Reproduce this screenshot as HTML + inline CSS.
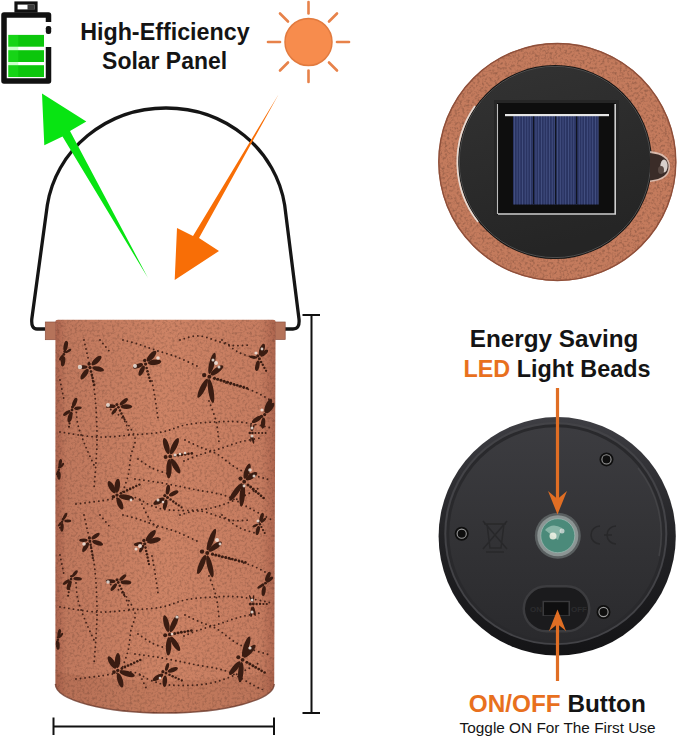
<!DOCTYPE html>
<html><head><meta charset="utf-8">
<style>
html,body{margin:0;padding:0;background:#fff;}
body{width:679px;height:738px;overflow:hidden;position:relative;}
svg{position:absolute;left:0;top:0;}
text{font-family:"Liberation Sans",sans-serif;}
</style></head>
<body>
<svg width="679" height="738" viewBox="0 0 679 738">
<defs>
  <linearGradient id="copper" x1="0" x2="1" y1="0" y2="0">
    <stop offset="0" stop-color="#ab634d"/>
    <stop offset="0.05" stop-color="#c0785d"/>
    <stop offset="0.5" stop-color="#cd8365"/>
    <stop offset="0.93" stop-color="#c67c60"/>
    <stop offset="1" stop-color="#ad654e"/>
  </linearGradient>
  <clipPath id="bodyclip"><path d="M55.8 322 H275.2 L273.8 690 H55.8 Z"/></clipPath>
  <filter id="speck" x="0" y="0" width="100%" height="100%">
    <feTurbulence type="fractalNoise" baseFrequency="0.4" numOctaves="2" seed="7" result="n"/>
    <feColorMatrix in="n" type="matrix" values="0 0 0 0 0  0 0 0 0 0  0 0 0 0 0  0 0 0 -2.6 1.45"/>
    <feComposite in2="SourceGraphic" operator="in"/>
  </filter>
  <linearGradient id="rimg" x1="0" x2="0" y1="0" y2="1">
    <stop offset="0" stop-color="#3e3e43"/>
    <stop offset="0.5" stop-color="#232326"/>
    <stop offset="1" stop-color="#141416"/>
  </linearGradient>
  <linearGradient id="faceg" x1="0" x2="0" y1="0" y2="1">
    <stop offset="0" stop-color="#3c3c40"/>
    <stop offset="0.5" stop-color="#333336"/>
    <stop offset="1" stop-color="#2a2a2d"/>
  </linearGradient>
  <linearGradient id="topdiscg" x1="0" x2="0.3" y1="0" y2="1">
    <stop offset="0" stop-color="#333333"/>
    <stop offset="1" stop-color="#252525"/>
  </linearGradient>
</defs>

<!-- Battery -->
<g id="battery">
  <rect x="16" y="3" width="20" height="8" fill="#fff" stroke="#111" stroke-width="3.2"/>
  <rect x="27.5" y="4.5" width="7" height="5.5" fill="#3a3a3a"/>
  <path d="M48.5 22 V15 H4 V81 H48.5 V47" fill="none" stroke="#111" stroke-width="5.5" stroke-linejoin="round"/>
  <rect x="45.8" y="26" width="5.4" height="8" rx="2.2" fill="#111"/>
  <rect x="8.3" y="34.9" width="35.7" height="11.8" fill="#0cc60c"/>
  <rect x="8.3" y="50.2" width="35.7" height="11.8" fill="#0cc60c"/>
  <rect x="8.3" y="65.2" width="35.7" height="11.8" fill="#0cc60c"/>
  <rect x="8.3" y="34.9" width="10" height="42" fill="#3f3" opacity="0.25"/>
</g>

<!-- Title text -->
<text x="164.9" y="39.6" text-anchor="middle" font-size="23" font-weight="bold" fill="#141414" textLength="169.5" lengthAdjust="spacingAndGlyphs">High-Efficiency</text>
<text x="164.6" y="68.9" text-anchor="middle" font-size="23" font-weight="bold" fill="#141414" textLength="125" lengthAdjust="spacingAndGlyphs">Solar Panel</text>

<!-- Sun -->
<g id="sun" stroke="#e7824a" stroke-width="2.6" stroke-linecap="round">
  <circle cx="308.5" cy="42" r="23.5" fill="#f78c4d" stroke="#e27a3e" stroke-width="1.5"/>
  <line x1="308.5" y1="2" x2="308.5" y2="13.5"/>
  <line x1="308.5" y1="70.5" x2="308.5" y2="82"/>
  <line x1="268" y1="42" x2="280" y2="42"/>
  <line x1="337" y1="42" x2="349" y2="42"/>
  <line x1="280" y1="13.5" x2="288" y2="21.5"/>
  <line x1="337" y1="13.5" x2="329" y2="21.5"/>
  <line x1="280" y1="70.5" x2="288" y2="62.5"/>
  <line x1="337" y1="70.5" x2="329" y2="62.5"/>
</g>

<!-- Handle -->
<path d="M45 329 H37 Q31 329 31.8 319 L47.34 205 A120 114 0 0 1 284.66 205 L299 319 Q300 329 293 329 H285" fill="none" stroke="#151515" stroke-width="3.3"/>

<!-- Green arrow -->
<path d="M42 93.5 L86.3 121.4 L70 131 L148 278 L62.5 136.5 L44.3 145.3 Z" fill="#08e412"/>
<!-- Orange arrow -->
<path d="M278.5 94.4 L199 238 L219 251 L174.7 280 L177 228 L193 236 Z" fill="#f86e06"/>

<!-- Lantern body -->
<g id="lantern">
  <rect x="45.3" y="322" width="10.5" height="17.7" fill="#b5735a"/>
  <rect x="45.3" y="322" width="10.5" height="17.7" fill="none" stroke="#8f5240" stroke-width="0.7"/>
  <rect x="275.2" y="322" width="10" height="17.5" fill="#b5735a"/>
  <rect x="275.2" y="322" width="10" height="17.5" fill="none" stroke="#8f5240" stroke-width="0.7"/>
  <path id="body" d="M55.4 322 Q55.4 319.7 58 319.7 H273 Q275.6 319.7 275.6 322 L274.2 684 A109.4 29 0 0 1 55.4 684 Z" fill="url(#copper)"/>
  <path d="M55.4 672 Q165 690 274.3 672 L274.2 684 A109.4 29 0 0 1 55.4 684 Z" fill="#6a3020" opacity="0.1"/>
  <path d="M55.4 684 A109.4 29 0 0 0 274.2 684" fill="none" stroke="#6e3a2a" stroke-width="1.4" opacity="0.8"/>
  <path d="M55.4 322 Q55.4 319.7 58 319.7 H273 Q275.6 319.7 275.6 322 L274.2 684 A109.4 29 0 0 1 55.4 684 Z" fill="#000" filter="url(#speck)" opacity="0.16"/>
  <g clip-path="url(#bodyclip)">
<!--DF-->
<g fill="none" stroke="#45241a" stroke-width="1.9" stroke-linecap="round" stroke-dasharray="0 4.6">
<path d="M84 340 C85.7 348.0 91.8 372.7 94 388 C96.2 403.3 96.7 419.7 97 432 C97.3 444.3 96.5 452.5 96 462 C95.5 471.5 94.3 484.5 94 489"/>
<path d="M123 340 C125.5 340.7 132.7 342.3 138 344 C143.3 345.7 148.5 347.8 155 350 C161.5 352.2 169.7 354.2 177 357 C184.3 359.8 195.3 365.3 199 367"/>
<path d="M226 383 C230.5 384.3 245.3 388.0 253 391 C260.7 394.0 268.8 399.3 272 401"/>
<path d="M60 432 C66.2 432.8 85.2 436.5 97 437 C108.8 437.5 120.2 435.8 131 435 C141.8 434.2 153.0 433.7 162 432 C171.0 430.3 176.5 426.7 185 425 C193.5 423.3 203.8 422.5 213 422 C222.2 421.5 230.2 421.0 240 422 C249.8 423.0 266.7 427.0 272 428"/>
<path d="M152 381 C152.5 383.8 154.0 391.8 155 398 C156.0 404.2 157.5 414.7 158 418"/>
<path d="M124 418 C125.8 421.3 133.8 431.8 135 438 C136.2 444.2 132.2 448.7 131 455 C129.8 461.3 129.7 469.2 128 476 C126.3 482.8 122.2 492.7 121 496"/>
<path d="M184 461 C186.5 460.0 193.2 457.0 199 455 C204.8 453.0 212.2 451.2 219 449 C225.8 446.8 233.2 443.8 240 442 C246.8 440.2 256.7 438.7 260 438"/>
<path d="M135 479 C139.5 479.7 152.5 481.3 162 483 C171.5 484.7 181.3 486.8 192 489 C202.7 491.2 215.8 492.5 226 496 C236.2 499.5 245.3 506.0 253 510 C260.7 514.0 268.8 518.3 272 520"/>
<path d="M209 401 C210.2 404.3 214.3 414.2 216 421 C217.7 427.8 218.5 438.5 219 442"/>
<path d="M100 340 L110 352"/>
<path d="M180 340 C183.3 339.3 191.7 335.2 200 336 C208.3 336.8 221.7 343.5 230 345 C238.3 346.5 246.7 345.0 250 345"/>
<path d="M140 500 C141.7 503.3 146.7 515.0 150 520 C153.3 525.0 158.3 528.3 160 530"/>
<path d="M76 408 C76.3 410.8 76.5 418.8 78 425 C79.5 431.2 82.3 438.3 85 445 C87.7 451.7 92.5 461.7 94 465"/>
<path d="M107 407 C109.8 409.2 120.2 414.8 124 420 C127.8 425.2 129.0 435.0 130 438"/>
<path d="M185 440 C187.5 441.2 194.7 444.7 200 447 C205.3 449.3 210.3 450.2 217 454 C223.7 457.8 231.2 465.7 240 470 C248.8 474.3 265.0 478.3 270 480"/>
<path d="M138 459 C140.3 460.5 147.0 465.5 152 468 C157.0 470.5 165.3 473.0 168 474"/>
<path d="M60 380 L64 400"/>
<path d="M222 340 C224.7 342.0 232.5 349.0 238 352 C243.5 355.0 252.2 357.0 255 358"/>
<path d="M76 504 C80.0 503.5 90.7 502.2 100 501 C109.3 499.8 123.7 496.3 132 497 C140.3 497.7 143.8 502.8 150 505 C156.2 507.2 159.7 509.3 169 510 C178.3 510.7 195.0 510.7 206 509 C217.0 507.3 225.8 503.7 235 500 C244.2 496.3 256.7 489.2 261 487"/>
<path d="M84 515 C85.7 523.0 91.8 547.7 94 563 C96.2 578.3 96.7 594.7 97 607 C97.3 619.3 96.5 627.5 96 637 C95.5 646.5 94.3 659.5 94 664"/>
<path d="M123 515 C125.5 515.7 132.7 517.3 138 519 C143.3 520.7 148.5 522.8 155 525 C161.5 527.2 169.7 529.2 177 532 C184.3 534.8 195.3 540.3 199 542"/>
<path d="M226 558 C230.5 559.3 245.3 563.0 253 566 C260.7 569.0 268.8 574.3 272 576"/>
<path d="M60 607 C66.2 607.8 85.2 611.5 97 612 C108.8 612.5 120.2 610.8 131 610 C141.8 609.2 153.0 608.7 162 607 C171.0 605.3 176.5 601.7 185 600 C193.5 598.3 203.8 597.5 213 597 C222.2 596.5 230.2 596.0 240 597 C249.8 598.0 266.7 602.0 272 603"/>
<path d="M152 556 C152.5 558.8 154.0 566.8 155 573 C156.0 579.2 157.5 589.7 158 593"/>
<path d="M124 593 C125.8 596.3 133.8 606.8 135 613 C136.2 619.2 132.2 623.7 131 630 C129.8 636.3 129.7 644.2 128 651 C126.3 657.8 122.2 667.7 121 671"/>
<path d="M184 636 C186.5 635.0 193.2 632.0 199 630 C204.8 628.0 212.2 626.2 219 624 C225.8 621.8 233.2 618.8 240 617 C246.8 615.2 256.7 613.7 260 613"/>
<path d="M135 654 C139.5 654.7 152.5 656.3 162 658 C171.5 659.7 181.3 661.8 192 664 C202.7 666.2 215.8 667.5 226 671 C236.2 674.5 245.3 681.0 253 685 C260.7 689.0 268.8 693.3 272 695"/>
<path d="M209 576 C210.2 579.3 214.3 589.2 216 596 C217.7 602.8 218.5 613.5 219 617"/>
<path d="M100 515 L110 527"/>
<path d="M180 515 C183.3 514.3 191.7 510.2 200 511 C208.3 511.8 221.7 518.5 230 520 C238.3 521.5 246.7 520.0 250 520"/>
<path d="M140 675 C141.7 678.3 146.7 690.0 150 695 C153.3 700.0 158.3 703.3 160 705"/>
<path d="M76 583 C76.3 585.8 76.5 593.8 78 600 C79.5 606.2 82.3 613.3 85 620 C87.7 626.7 92.5 636.7 94 640"/>
<path d="M107 582 C109.8 584.2 120.2 589.8 124 595 C127.8 600.2 129.0 610.0 130 613"/>
<path d="M185 615 C187.5 616.2 194.7 619.7 200 622 C205.3 624.3 210.3 625.2 217 629 C223.7 632.8 231.2 640.7 240 645 C248.8 649.3 265.0 653.3 270 655"/>
<path d="M138 634 C140.3 635.5 147.0 640.5 152 643 C157.0 645.5 165.3 648.0 168 649"/>
<path d="M60 555 L64 575"/>
<path d="M222 515 C224.7 517.0 232.5 524.0 238 527 C243.5 530.0 252.2 532.0 255 533"/>
<path d="M76 679 C80.0 678.5 90.7 677.2 100 676 C109.3 674.8 123.7 671.3 132 672 C140.3 672.7 143.8 677.8 150 680 C156.2 682.2 159.7 684.3 169 685 C178.3 685.7 195.0 685.7 206 684 C217.0 682.3 225.8 678.7 235 675 C244.2 671.3 256.7 664.2 261 662"/>
</g>
<g fill="#3a1c12">
<ellipse cx="65.7" cy="346.0" rx="5.2" ry="2.1" transform="rotate(-78.5 65.7 346.0)"/><ellipse cx="68.4" cy="351.0" rx="3.3" ry="1.3" transform="rotate(-31.8 68.4 351.0)"/><ellipse cx="61.3" cy="357.6" rx="3.2" ry="1.3" transform="rotate(125.4 61.3 357.6)"/><ellipse cx="63.1" cy="361.3" rx="5.2" ry="2.1" transform="rotate(97.3 63.1 361.3)"/><circle cx="64.8" cy="351.6" r="1.5"/><circle cx="63.8" cy="354.4" r="1.4"/><circle cx="62.7" cy="357.5" r="1.16"/><circle cx="61.5" cy="360.7" r="1.13"/>
<ellipse cx="96.5" cy="360.6" rx="6.5" ry="2.6" transform="rotate(-42.9 96.5 360.6)"/><ellipse cx="98.1" cy="368.9" rx="6.0" ry="2.4" transform="rotate(14.3 98.1 368.9)"/><ellipse cx="82.9" cy="367.1" rx="4.6" ry="1.8" transform="rotate(177.5 82.9 367.1)"/><ellipse cx="84.6" cy="374.1" rx="6.3" ry="2.5" transform="rotate(125.7 84.6 374.1)"/><circle cx="89.1" cy="364.0" r="1.7"/><circle cx="90.0" cy="367.6" r="1.6"/><circle cx="91.0" cy="371.5" r="1.32"/><circle cx="91.8" cy="374.8" r="1.29"/><circle cx="92.6" cy="378.1" r="1.26"/><circle cx="93.4" cy="381.4" r="1.23"/><circle cx="94.3" cy="384.7" r="1.20"/>
<ellipse cx="151.5" cy="356.2" rx="6.8" ry="2.7" transform="rotate(-49.2 151.5 356.2)"/><ellipse cx="154.6" cy="362.3" rx="6.7" ry="2.7" transform="rotate(-6.5 154.6 362.3)"/><ellipse cx="138.0" cy="365.9" rx="5.3" ry="2.1" transform="rotate(160.5 138.0 365.9)"/><ellipse cx="141.7" cy="370.7" rx="5.6" ry="2.3" transform="rotate(116.6 141.7 370.7)"/><circle cx="144.7" cy="360.5" r="1.7"/><circle cx="145.6" cy="364.1" r="1.6"/><circle cx="146.6" cy="368.0" r="1.32"/><circle cx="147.5" cy="371.2" r="1.29"/><circle cx="148.4" cy="374.5" r="1.26"/><circle cx="149.3" cy="377.8" r="1.23"/><circle cx="150.2" cy="381.1" r="1.20"/>
<ellipse cx="212.0" cy="363.3" rx="11.0" ry="2.7" transform="rotate(-75.4 212.0 363.3)"/><ellipse cx="216.9" cy="370.3" rx="7.8" ry="2.7" transform="rotate(-36.7 216.9 370.3)"/><ellipse cx="202.7" cy="388.3" rx="10.6" ry="2.7" transform="rotate(116.6 202.7 388.3)"/><ellipse cx="211.0" cy="391.0" rx="12.1" ry="2.7" transform="rotate(80.6 211.0 391.0)"/><circle cx="204.2" cy="375.1" r="2.2"/><circle cx="209.4" cy="376.7" r="2.0"/><circle cx="214.5" cy="378.3" r="1.60"/><circle cx="217.7" cy="379.3" r="1.57"/><circle cx="221.0" cy="380.3" r="1.54"/><circle cx="224.2" cy="381.3" r="1.51"/><circle cx="227.5" cy="382.3" r="1.48"/><circle cx="230.7" cy="383.3" r="1.45"/><circle cx="234.0" cy="384.3" r="1.42"/><circle cx="237.2" cy="385.3" r="1.39"/><circle cx="240.5" cy="386.2" r="1.36"/><circle cx="243.7" cy="387.2" r="1.33"/><circle cx="247.0" cy="388.2" r="1.30"/>
<ellipse cx="261.9" cy="349.7" rx="6.3" ry="2.5" transform="rotate(-70.6 261.9 349.7)"/><ellipse cx="264.3" cy="353.2" rx="4.8" ry="1.9" transform="rotate(-42.3 264.3 353.2)"/><ellipse cx="253.4" cy="357.2" rx="3.8" ry="1.5" transform="rotate(-172.0 253.4 357.2)"/><ellipse cx="257.4" cy="365.8" rx="5.3" ry="2.1" transform="rotate(101.7 257.4 365.8)"/><circle cx="257.8" cy="355.9" r="1.6"/><circle cx="259.4" cy="358.7" r="1.5"/><circle cx="261.1" cy="361.9" r="1.23"/><circle cx="262.8" cy="364.8" r="1.20"/><circle cx="264.4" cy="367.8" r="1.17"/><circle cx="266.1" cy="370.8" r="1.14"/>
<ellipse cx="74.7" cy="402.3" rx="4.9" ry="2.0" transform="rotate(-69.1 74.7 402.3)"/><ellipse cx="77.9" cy="408.2" rx="3.9" ry="1.6" transform="rotate(-9.9 77.9 408.2)"/><ellipse cx="66.8" cy="412.9" rx="4.3" ry="1.7" transform="rotate(144.8 66.8 412.9)"/><ellipse cx="70.0" cy="417.1" rx="5.6" ry="2.2" transform="rotate(104.7 70.0 417.1)"/><circle cx="72.5" cy="407.0" r="1.5"/><circle cx="72.0" cy="410.0" r="1.4"/><circle cx="71.4" cy="413.4" r="1.19"/><circle cx="70.8" cy="416.7" r="1.16"/><circle cx="70.2" cy="420.1" r="1.13"/><circle cx="69.6" cy="423.4" r="1.10"/><circle cx="69.0" cy="426.8" r="1.07"/>
<ellipse cx="123.8" cy="401.8" rx="5.0" ry="2.0" transform="rotate(-39.5 123.8 401.8)"/><ellipse cx="126.4" cy="406.6" rx="5.8" ry="2.3" transform="rotate(0.0 126.4 406.6)"/><ellipse cx="111.1" cy="406.1" rx="4.6" ry="1.8" transform="rotate(-175.5 111.1 406.1)"/><ellipse cx="114.3" cy="411.3" rx="4.0" ry="1.6" transform="rotate(128.1 114.3 411.3)"/><circle cx="116.9" cy="404.5" r="1.5"/><circle cx="118.4" cy="407.3" r="1.4"/><circle cx="120.0" cy="410.5" r="1.21"/><circle cx="121.5" cy="413.5" r="1.18"/><circle cx="123.1" cy="416.5" r="1.15"/><circle cx="124.6" cy="419.5" r="1.12"/>
<ellipse cx="268.2" cy="405.7" rx="7.6" ry="2.7" transform="rotate(-66.0 268.2 405.7)"/><ellipse cx="269.8" cy="408.0" rx="6.5" ry="2.6" transform="rotate(-50.2 269.8 408.0)"/><ellipse cx="256.9" cy="419.4" rx="5.8" ry="2.3" transform="rotate(148.0 256.9 419.4)"/><ellipse cx="263.1" cy="423.1" rx="5.6" ry="2.2" transform="rotate(96.2 263.1 423.1)"/><circle cx="261.5" cy="416.4" r="1.7"/><circle cx="264.7" cy="414.6" r="1.6"/>
<ellipse cx="251.1" cy="427.6" rx="3.6" ry="0.8" transform="rotate(-95.7 251.1 427.6)"/><ellipse cx="253.3" cy="427.6" rx="3.8" ry="0.8" transform="rotate(-72.1 253.3 427.6)"/><ellipse cx="251.1" cy="438.4" rx="3.6" ry="0.8" transform="rotate(95.7 251.1 438.4)"/><ellipse cx="252.9" cy="439.5" rx="4.4" ry="1.0" transform="rotate(78.7 252.9 439.5)"/><circle cx="249.8" cy="433.0" r="1.3"/><circle cx="252.4" cy="433.0" r="1.3"/><circle cx="255.4" cy="433.0" r="1.09"/><circle cx="258.8" cy="433.0" r="1.06"/><circle cx="262.2" cy="433.0" r="1.03"/><circle cx="265.6" cy="433.0" r="1.00"/>
<ellipse cx="166.4" cy="446.0" rx="8.3" ry="2.7" transform="rotate(-106.0 166.4 446.0)"/><ellipse cx="174.4" cy="446.1" rx="9.0" ry="2.7" transform="rotate(-64.3 174.4 446.1)"/><ellipse cx="169.0" cy="468.8" rx="9.8" ry="2.7" transform="rotate(92.1 169.0 468.8)"/><ellipse cx="175.4" cy="466.0" rx="8.6" ry="2.7" transform="rotate(57.8 175.4 466.0)"/><circle cx="165.6" cy="457.0" r="2.0"/><circle cx="170.2" cy="456.4" r="1.9"/><circle cx="175.0" cy="455.7" r="1.49"/><circle cx="178.3" cy="455.2" r="1.46"/><circle cx="181.7" cy="454.8" r="1.43"/><circle cx="185.1" cy="454.3" r="1.40"/><circle cx="188.4" cy="453.8" r="1.37"/><circle cx="191.8" cy="453.4" r="1.34"/>
<ellipse cx="111.7" cy="487.2" rx="6.8" ry="2.7" transform="rotate(-119.4 111.7 487.2)"/><ellipse cx="117.3" cy="485.7" rx="7.1" ry="2.7" transform="rotate(-84.2 117.3 485.7)"/><ellipse cx="126.4" cy="497.4" rx="7.7" ry="2.7" transform="rotate(11.2 126.4 497.4)"/><ellipse cx="119.9" cy="503.6" rx="6.4" ry="2.6" transform="rotate(66.6 119.9 503.6)"/><circle cx="113.4" cy="496.7" r="1.8"/><circle cx="117.0" cy="495.1" r="1.7"/><circle cx="120.9" cy="493.3" r="1.38"/><circle cx="124.0" cy="491.8" r="1.35"/><circle cx="127.1" cy="490.4" r="1.32"/><circle cx="130.2" cy="488.9" r="1.29"/><circle cx="133.2" cy="487.5" r="1.26"/><circle cx="136.3" cy="486.1" r="1.23"/><circle cx="139.4" cy="484.6" r="1.20"/>
<ellipse cx="167.9" cy="489.7" rx="4.9" ry="2.0" transform="rotate(-81.6 167.9 489.7)"/><ellipse cx="173.7" cy="493.4" rx="5.2" ry="2.1" transform="rotate(-27.6 173.7 493.4)"/><ellipse cx="159.0" cy="501.2" rx="6.3" ry="2.5" transform="rotate(151.6 159.0 501.2)"/><ellipse cx="165.2" cy="504.5" rx="5.1" ry="2.0" transform="rotate(102.2 165.2 504.5)"/><circle cx="164.8" cy="495.6" r="1.6"/><circle cx="167.5" cy="497.5" r="1.5"/><circle cx="170.5" cy="499.6" r="1.25"/><circle cx="173.3" cy="501.5" r="1.22"/><circle cx="176.0" cy="503.5" r="1.19"/><circle cx="178.8" cy="505.4" r="1.16"/><circle cx="181.6" cy="507.4" r="1.13"/>
<ellipse cx="247.1" cy="471.2" rx="8.0" ry="2.7" transform="rotate(-70.6 247.1 471.2)"/><ellipse cx="251.5" cy="476.2" rx="6.7" ry="2.7" transform="rotate(-32.5 251.5 476.2)"/><ellipse cx="235.8" cy="492.0" rx="10.7" ry="2.7" transform="rotate(125.9 235.8 492.0)"/><ellipse cx="242.3" cy="495.3" rx="11.5" ry="2.7" transform="rotate(95.4 242.3 495.3)"/><circle cx="240.5" cy="478.6" r="2.1"/><circle cx="244.2" cy="481.7" r="1.9"/><circle cx="248.0" cy="484.9" r="1.52"/><circle cx="250.6" cy="487.1" r="1.49"/><circle cx="253.2" cy="489.3" r="1.46"/><circle cx="255.8" cy="491.5" r="1.43"/><circle cx="258.4" cy="493.6" r="1.40"/><circle cx="261.0" cy="495.8" r="1.37"/><circle cx="263.6" cy="498.0" r="1.34"/>
<ellipse cx="60.2" cy="463.0" rx="4.1" ry="1.6" transform="rotate(-78.7 60.2 463.0)"/><ellipse cx="62.0" cy="465.4" rx="3.1" ry="1.2" transform="rotate(-50.2 62.0 465.4)"/><ellipse cx="57.5" cy="472.8" rx="2.7" ry="1.1" transform="rotate(111.8 57.5 472.8)"/><ellipse cx="59.0" cy="475.5" rx="4.3" ry="1.7" transform="rotate(90.0 59.0 475.5)"/><circle cx="59.3" cy="467.3" r="1.3"/><circle cx="58.9" cy="469.8" r="1.2"/><circle cx="58.3" cy="472.7" r="1.08"/><circle cx="57.8" cy="476.0" r="1.05"/>
<ellipse cx="65.0" cy="516.2" rx="3.7" ry="1.5" transform="rotate(-61.2 65.0 516.2)"/><ellipse cx="67.7" cy="521.0" rx="3.5" ry="1.4" transform="rotate(0.0 67.7 521.0)"/><ellipse cx="59.8" cy="524.1" rx="2.7" ry="1.1" transform="rotate(129.3 59.8 524.1)"/><ellipse cx="62.0" cy="527.4" rx="4.3" ry="1.7" transform="rotate(93.9 62.0 527.4)"/><circle cx="63.0" cy="519.4" r="1.3"/><circle cx="62.1" cy="521.8" r="1.2"/><circle cx="61.1" cy="524.5" r="1.08"/><circle cx="60.0" cy="527.7" r="1.05"/>
<ellipse cx="95.6" cy="536.1" rx="4.8" ry="1.9" transform="rotate(-35.8 95.6 536.1)"/><ellipse cx="97.6" cy="542.9" rx="5.7" ry="2.3" transform="rotate(18.4 97.6 542.9)"/><ellipse cx="83.4" cy="540.3" rx="4.2" ry="1.7" transform="rotate(180.0 83.4 540.3)"/><ellipse cx="85.6" cy="547.2" rx="5.5" ry="2.2" transform="rotate(121.7 85.6 547.2)"/><circle cx="89.4" cy="537.9" r="1.6"/><circle cx="89.9" cy="541.1" r="1.5"/><circle cx="90.6" cy="544.7" r="1.24"/><circle cx="91.2" cy="548.0" r="1.21"/><circle cx="91.8" cy="551.4" r="1.18"/><circle cx="92.3" cy="554.7" r="1.15"/><circle cx="92.9" cy="558.1" r="1.12"/>
<ellipse cx="150.8" cy="535.7" rx="7.1" ry="2.7" transform="rotate(-49.2 150.8 535.7)"/><ellipse cx="153.9" cy="540.5" rx="7.1" ry="2.7" transform="rotate(-14.7 153.9 540.5)"/><ellipse cx="138.2" cy="544.0" rx="4.3" ry="1.7" transform="rotate(170.8 138.2 544.0)"/><ellipse cx="141.6" cy="548.6" rx="4.2" ry="1.7" transform="rotate(117.1 141.6 548.6)"/><circle cx="143.9" cy="540.4" r="1.7"/><circle cx="144.7" cy="543.8" r="1.6"/><circle cx="145.5" cy="547.6" r="1.29"/><circle cx="146.2" cy="550.9" r="1.26"/><circle cx="146.9" cy="554.2" r="1.23"/><circle cx="147.6" cy="557.5" r="1.20"/><circle cx="148.3" cy="560.9" r="1.17"/><circle cx="149.0" cy="564.2" r="1.14"/>
<ellipse cx="211.4" cy="539.5" rx="11.5" ry="2.7" transform="rotate(-69.6 211.4 539.5)"/><ellipse cx="215.1" cy="546.6" rx="8.0" ry="2.7" transform="rotate(-35.3 215.1 546.6)"/><ellipse cx="201.6" cy="564.5" rx="10.2" ry="2.7" transform="rotate(112.5 201.6 564.5)"/><ellipse cx="209.9" cy="566.3" rx="11.4" ry="2.7" transform="rotate(75.9 209.9 566.3)"/><circle cx="202.0" cy="551.6" r="2.2"/><circle cx="207.3" cy="552.9" r="2.0"/><circle cx="212.5" cy="554.2" r="1.60"/><circle cx="215.8" cy="555.0" r="1.57"/><circle cx="219.1" cy="555.8" r="1.54"/><circle cx="222.4" cy="556.7" r="1.51"/><circle cx="225.7" cy="557.5" r="1.48"/><circle cx="229.0" cy="558.3" r="1.45"/><circle cx="232.3" cy="559.1" r="1.42"/><circle cx="235.6" cy="559.9" r="1.39"/><circle cx="238.9" cy="560.8" r="1.36"/><circle cx="242.1" cy="561.6" r="1.33"/><circle cx="245.4" cy="562.4" r="1.30"/>
<ellipse cx="261.6" cy="517.2" rx="4.5" ry="1.8" transform="rotate(-71.7 261.6 517.2)"/><ellipse cx="263.4" cy="520.2" rx="3.4" ry="1.4" transform="rotate(-40.7 263.4 520.2)"/><ellipse cx="255.3" cy="525.6" rx="3.1" ry="1.2" transform="rotate(154.1 255.3 525.6)"/><ellipse cx="257.8" cy="530.5" rx="4.7" ry="1.9" transform="rotate(103.8 257.8 530.5)"/><circle cx="258.6" cy="521.9" r="1.4"/><circle cx="259.9" cy="524.3" r="1.3"/><circle cx="261.4" cy="527.0" r="1.12"/><circle cx="263.0" cy="530.0" r="1.09"/><circle cx="264.7" cy="533.0" r="1.06"/>
<ellipse cx="74.9" cy="573.6" rx="4.0" ry="1.6" transform="rotate(-51.9 74.9 573.6)"/><ellipse cx="77.6" cy="578.8" rx="4.3" ry="1.7" transform="rotate(4.9 77.6 578.8)"/><ellipse cx="66.3" cy="582.1" rx="4.1" ry="1.6" transform="rotate(142.1 66.3 582.1)"/><ellipse cx="69.1" cy="585.3" rx="4.9" ry="2.0" transform="rotate(106.7 69.1 585.3)"/><circle cx="71.5" cy="576.3" r="1.4"/><circle cx="71.1" cy="579.1" r="1.3"/><circle cx="70.5" cy="582.3" r="1.15"/><circle cx="69.9" cy="585.6" r="1.12"/><circle cx="69.3" cy="589.0" r="1.09"/><circle cx="68.7" cy="592.3" r="1.06"/><circle cx="68.1" cy="595.7" r="1.03"/>
<ellipse cx="122.8" cy="577.6" rx="4.3" ry="1.7" transform="rotate(-41.2 122.8 577.6)"/><ellipse cx="125.9" cy="582.3" rx="5.4" ry="2.1" transform="rotate(3.9 125.9 582.3)"/><ellipse cx="110.6" cy="581.3" rx="4.9" ry="2.0" transform="rotate(-176.3 110.6 581.3)"/><ellipse cx="113.8" cy="587.1" rx="4.5" ry="1.8" transform="rotate(128.2 113.8 587.1)"/><circle cx="117.0" cy="579.7" r="1.5"/><circle cx="118.3" cy="582.5" r="1.4"/><circle cx="119.8" cy="585.7" r="1.20"/><circle cx="121.3" cy="588.8" r="1.17"/><circle cx="122.7" cy="591.9" r="1.14"/><circle cx="124.1" cy="594.9" r="1.11"/>
<ellipse cx="267.9" cy="576.6" rx="5.1" ry="2.0" transform="rotate(-65.9 267.9 576.6)"/><ellipse cx="269.7" cy="579.6" rx="4.2" ry="1.7" transform="rotate(-38.8 269.7 579.6)"/><ellipse cx="260.4" cy="586.4" rx="3.5" ry="1.4" transform="rotate(147.3 260.4 586.4)"/><ellipse cx="263.7" cy="591.0" rx="5.0" ry="2.0" transform="rotate(98.3 263.7 591.0)"/><circle cx="262.9" cy="584.7" r="1.5"/><circle cx="265.5" cy="583.2" r="1.4"/>
<ellipse cx="250.6" cy="598.6" rx="3.8" ry="0.8" transform="rotate(-109.0 250.6 598.6)"/><ellipse cx="253.3" cy="598.6" rx="3.6" ry="0.8" transform="rotate(-81.2 253.3 598.6)"/><ellipse cx="251.6" cy="611.8" rx="5.3" ry="1.2" transform="rotate(96.8 251.6 611.8)"/><ellipse cx="254.2" cy="611.2" rx="4.9" ry="1.1" transform="rotate(76.4 254.2 611.2)"/><circle cx="250.4" cy="604.0" r="1.5"/><circle cx="253.3" cy="604.0" r="1.4"/><circle cx="256.6" cy="604.0" r="1.17"/><circle cx="260.0" cy="604.0" r="1.14"/><circle cx="263.4" cy="604.0" r="1.11"/><circle cx="266.8" cy="604.0" r="1.08"/>
<ellipse cx="166.4" cy="623.6" rx="8.6" ry="2.7" transform="rotate(-103.8 166.4 623.6)"/><ellipse cx="174.0" cy="623.7" rx="9.2" ry="2.7" transform="rotate(-65.6 174.0 623.7)"/><ellipse cx="168.6" cy="646.3" rx="9.2" ry="2.7" transform="rotate(92.5 168.6 646.3)"/><ellipse cx="175.1" cy="643.7" rx="8.4" ry="2.7" transform="rotate(56.8 175.1 643.7)"/><circle cx="165.2" cy="635.2" r="2.0"/><circle cx="169.9" cy="634.4" r="1.9"/><circle cx="174.7" cy="633.5" r="1.50"/><circle cx="178.0" cy="632.9" r="1.47"/><circle cx="181.3" cy="632.3" r="1.44"/><circle cx="184.7" cy="631.8" r="1.41"/><circle cx="188.0" cy="631.2" r="1.38"/><circle cx="191.4" cy="630.6" r="1.35"/>
<ellipse cx="112.0" cy="662.5" rx="7.1" ry="2.7" transform="rotate(-121.8 112.0 662.5)"/><ellipse cx="117.6" cy="660.6" rx="7.6" ry="2.7" transform="rotate(-87.1 117.6 660.6)"/><ellipse cx="127.2" cy="673.7" rx="7.9" ry="2.7" transform="rotate(16.7 127.2 673.7)"/><ellipse cx="120.1" cy="680.3" rx="7.5" ry="2.7" transform="rotate(72.5 120.1 680.3)"/><circle cx="114.0" cy="672.1" r="1.9"/><circle cx="117.8" cy="670.4" r="1.7"/><circle cx="121.9" cy="668.5" r="1.41"/><circle cx="124.9" cy="667.0" r="1.38"/><circle cx="128.0" cy="665.6" r="1.35"/><circle cx="131.1" cy="664.2" r="1.32"/><circle cx="134.2" cy="662.7" r="1.29"/><circle cx="137.3" cy="661.3" r="1.26"/><circle cx="140.3" cy="659.9" r="1.23"/>
<ellipse cx="167.1" cy="666.9" rx="4.1" ry="1.7" transform="rotate(-73.2 167.1 666.9)"/><ellipse cx="172.8" cy="669.9" rx="5.4" ry="2.2" transform="rotate(-21.0 172.8 669.9)"/><ellipse cx="158.0" cy="677.3" rx="6.0" ry="2.4" transform="rotate(148.5 158.0 677.3)"/><ellipse cx="164.8" cy="681.2" rx="5.8" ry="2.3" transform="rotate(93.6 164.8 681.2)"/><circle cx="162.9" cy="671.7" r="1.6"/><circle cx="166.0" cy="673.1" r="1.5"/><circle cx="169.5" cy="674.8" r="1.28"/><circle cx="172.6" cy="676.2" r="1.25"/><circle cx="175.7" cy="677.6" r="1.22"/><circle cx="178.7" cy="679.1" r="1.19"/><circle cx="181.8" cy="680.5" r="1.16"/>
<ellipse cx="246.2" cy="646.7" rx="10.8" ry="2.7" transform="rotate(-71.5 246.2 646.7)"/><ellipse cx="249.5" cy="651.2" rx="8.5" ry="2.7" transform="rotate(-47.1 249.5 651.2)"/><ellipse cx="234.9" cy="668.1" rx="8.5" ry="2.7" transform="rotate(129.0 234.9 668.1)"/><ellipse cx="240.8" cy="672.1" rx="10.2" ry="2.7" transform="rotate(94.7 240.8 672.1)"/><circle cx="238.3" cy="657.3" r="2.0"/><circle cx="242.6" cy="659.8" r="1.9"/><circle cx="246.9" cy="662.3" r="1.52"/><circle cx="249.8" cy="664.0" r="1.49"/><circle cx="252.8" cy="665.7" r="1.46"/><circle cx="255.7" cy="667.4" r="1.43"/><circle cx="258.7" cy="669.1" r="1.40"/><circle cx="261.6" cy="670.8" r="1.37"/><circle cx="264.6" cy="672.5" r="1.34"/>
<ellipse cx="59.2" cy="633.0" rx="4.1" ry="1.6" transform="rotate(-78.7 59.2 633.0)"/><ellipse cx="61.0" cy="635.4" rx="3.1" ry="1.2" transform="rotate(-50.2 61.0 635.4)"/><ellipse cx="56.5" cy="642.8" rx="2.7" ry="1.1" transform="rotate(111.8 56.5 642.8)"/><ellipse cx="58.0" cy="645.5" rx="4.3" ry="1.7" transform="rotate(90.0 58.0 645.5)"/><circle cx="58.3" cy="637.3" r="1.3"/><circle cx="57.9" cy="639.8" r="1.2"/><circle cx="57.3" cy="642.7" r="1.08"/><circle cx="56.8" cy="646.0" r="1.05"/>
</g>
<g fill="#f2e8e0" opacity="0.85">
<circle cx="80" cy="367" r="2.2"/>
<circle cx="135" cy="366" r="2"/>
<circle cx="158" cy="358" r="1.8"/>
<circle cx="216" cy="363" r="2"/>
<circle cx="219" cy="367" r="1.5"/>
<circle cx="213" cy="360" r="1.5"/>
<circle cx="256" cy="353" r="1.6"/>
<circle cx="262" cy="349" r="1.4"/>
<circle cx="108" cy="405" r="2"/>
<circle cx="262" cy="410" r="1.6"/>
<circle cx="252" cy="428" r="1.5"/>
<circle cx="252" cy="436" r="1.5"/>
<circle cx="175" cy="455" r="1.5"/>
<circle cx="180" cy="454" r="1.3"/>
<circle cx="185" cy="453" r="1.2"/>
<circle cx="158" cy="500" r="1.5"/>
<circle cx="163" cy="502" r="1.3"/>
<circle cx="250" cy="470" r="1.8"/>
<circle cx="254" cy="476" r="1.5"/>
<circle cx="84" cy="544" r="1.8"/>
<circle cx="140" cy="546" r="2"/>
<circle cx="136" cy="549" r="1.5"/>
<circle cx="217" cy="540" r="2"/>
<circle cx="220" cy="544" r="1.4"/>
<circle cx="258" cy="521" r="1.5"/>
<circle cx="108" cy="582" r="1.8"/>
<circle cx="252" cy="600" r="1.5"/>
<circle cx="252" cy="612" r="1.5"/>
<circle cx="177" cy="617" r="1.6"/>
<circle cx="172" cy="634" r="1.3"/>
<circle cx="160" cy="678" r="1.3"/>
<circle cx="250" cy="648" r="1.6"/>
<circle cx="131" cy="500" r="1.4"/>
<circle cx="244" cy="486" r="1.4"/>
</g>
<!--/DF-->
  </g>
</g>

<!-- Dimension lines -->
<g stroke="#111" stroke-width="2">
  <line x1="311.5" y1="315" x2="311.5" y2="713"/>
  <line x1="302.5" y1="315" x2="320" y2="315"/>
  <line x1="302.5" y1="713" x2="320" y2="713"/>
  <line x1="53.5" y1="726.5" x2="274" y2="726.5"/>
  <line x1="53.5" y1="717.5" x2="53.5" y2="735"/>
  <line x1="274" y1="717.5" x2="274" y2="735"/>
</g>

<!-- Top disc with solar panel -->
<g id="topdisc">
  <circle cx="557.3" cy="162" r="119" fill="#c47b5d"/>
  <circle cx="557.3" cy="162" r="119" fill="#000" filter="url(#speck)" opacity="0.2"/>
  <circle cx="557.3" cy="162" r="118.5" fill="none" stroke="#8e4f3a" stroke-width="1.4"/>
  <circle cx="555" cy="162" r="97" fill="#141414"/>
  <circle cx="555" cy="162" r="95" fill="url(#topdiscg)"/>
  <circle cx="555" cy="162" r="95.6" fill="none" stroke="#a8a8a8" stroke-width="0.8" opacity="0.5"/>
  <path d="M478 222 A97.5 97.5 0 0 1 475 106" fill="none" stroke="#f0ece8" stroke-width="1.8" opacity="0.85"/>
  <path d="M650 151 Q670 153 670 166.5 Q670 180 650 182 Z" fill="#e8d8d0" opacity="0.7"/>
  <path d="M650 153 Q668.5 155 668.5 166.5 Q668.5 178.5 650 180.5 Z" fill="#3a2c28"/>
  <ellipse cx="664" cy="166" rx="3.6" ry="6.5" fill="#d8d0cc"/>
  <ellipse cx="661" cy="170" rx="3" ry="4" fill="#5a4a44"/>
  <rect x="494" y="100" width="125" height="116" fill="#262626"/>
  <rect x="497" y="103" width="118.5" height="111.5" fill="#0e0e0e"/>
  <path d="M497.5 104 V214" stroke="#bdbdbd" stroke-width="1.1"/>
  <path d="M615.2 104 V214 H498" fill="none" stroke="#cfcfcf" stroke-width="1.6"/>
  <rect x="513" y="116" width="85.5" height="88.5" fill="#2a3462"/>
  <rect x="514.0" y="116" width="0.8" height="88.5" fill="#6676ae" opacity="0.5"/><rect x="516.7" y="116" width="0.8" height="88.5" fill="#6676ae" opacity="0.5"/><rect x="519.4" y="116" width="0.8" height="88.5" fill="#6676ae" opacity="0.5"/><rect x="522.1" y="116" width="0.8" height="88.5" fill="#6676ae" opacity="0.5"/><rect x="524.8" y="116" width="0.8" height="88.5" fill="#6676ae" opacity="0.5"/><rect x="527.5" y="116" width="0.8" height="88.5" fill="#6676ae" opacity="0.5"/><rect x="530.2" y="116" width="0.8" height="88.5" fill="#6676ae" opacity="0.5"/><rect x="532.9" y="116" width="0.8" height="88.5" fill="#6676ae" opacity="0.5"/><rect x="535.6" y="116" width="0.8" height="88.5" fill="#6676ae" opacity="0.5"/><rect x="538.3" y="116" width="0.8" height="88.5" fill="#6676ae" opacity="0.5"/><rect x="541.0" y="116" width="0.8" height="88.5" fill="#6676ae" opacity="0.5"/><rect x="543.7" y="116" width="0.8" height="88.5" fill="#6676ae" opacity="0.5"/><rect x="546.4" y="116" width="0.8" height="88.5" fill="#6676ae" opacity="0.5"/><rect x="549.1" y="116" width="0.8" height="88.5" fill="#6676ae" opacity="0.5"/><rect x="551.8" y="116" width="0.8" height="88.5" fill="#6676ae" opacity="0.5"/><rect x="554.5" y="116" width="0.8" height="88.5" fill="#6676ae" opacity="0.5"/><rect x="557.2" y="116" width="0.8" height="88.5" fill="#6676ae" opacity="0.5"/><rect x="559.9" y="116" width="0.8" height="88.5" fill="#6676ae" opacity="0.5"/><rect x="562.6" y="116" width="0.8" height="88.5" fill="#6676ae" opacity="0.5"/><rect x="565.3" y="116" width="0.8" height="88.5" fill="#6676ae" opacity="0.5"/><rect x="568.0" y="116" width="0.8" height="88.5" fill="#6676ae" opacity="0.5"/><rect x="570.7" y="116" width="0.8" height="88.5" fill="#6676ae" opacity="0.5"/><rect x="573.4" y="116" width="0.8" height="88.5" fill="#6676ae" opacity="0.5"/><rect x="576.1" y="116" width="0.8" height="88.5" fill="#6676ae" opacity="0.5"/><rect x="578.8" y="116" width="0.8" height="88.5" fill="#6676ae" opacity="0.5"/><rect x="581.5" y="116" width="0.8" height="88.5" fill="#6676ae" opacity="0.5"/><rect x="584.2" y="116" width="0.8" height="88.5" fill="#6676ae" opacity="0.5"/><rect x="586.9" y="116" width="0.8" height="88.5" fill="#6676ae" opacity="0.5"/><rect x="589.6" y="116" width="0.8" height="88.5" fill="#6676ae" opacity="0.5"/><rect x="592.3" y="116" width="0.8" height="88.5" fill="#6676ae" opacity="0.5"/><rect x="595.0" y="116" width="0.8" height="88.5" fill="#6676ae" opacity="0.5"/><rect x="597.7" y="116" width="0.8" height="88.5" fill="#6676ae" opacity="0.5"/>
  
  <rect x="533" y="116" width="1.2" height="88.5" fill="#101420"/>
  <rect x="555" y="116" width="1.2" height="88.5" fill="#101420"/>
  <rect x="576" y="116" width="1.2" height="88.5" fill="#101420"/>
  <rect x="505" y="114" width="104" height="2.2" fill="#e6e6e6"/>
</g>

<!-- LED text -->
<text x="554.1" y="347.4" text-anchor="middle" font-size="23" font-weight="bold" fill="#141414" textLength="168.5" lengthAdjust="spacingAndGlyphs">Energy Saving</text>
<text x="557" y="377.4" text-anchor="middle" font-size="23" font-weight="bold" fill="#141414" textLength="187" lengthAdjust="spacingAndGlyphs"><tspan fill="#e8701e">LED</tspan> Light Beads</text>

<!-- Bottom disc -->
<g id="botdisc">
  <ellipse cx="557.2" cy="536.3" rx="118.6" ry="119.2" fill="url(#rimg)"/>
  <circle cx="555.8" cy="533.6" r="111.5" fill="#434347"/>
  <circle cx="555.8" cy="533.8" r="109.5" fill="#29292c"/>
  <circle cx="555.8" cy="533.8" r="106.5" fill="url(#faceg)"/>
  <path d="M638 468 A106 106 0 0 1 659 556" fill="none" stroke="#48484c" stroke-width="1.5" opacity="0.7"/>
  <g fill="none" stroke="#28282a" stroke-width="1.5">
    <path d="M484 524 H506 M487 524 L490 548 H501 L504 524 M483 521 L507 549 M507 521 L483 549 M486 552 H504"/>
    <path d="M600 526 A9 9 0 1 0 600 544 M616 526 A9 9 0 1 0 616 544 M604 535 H612"/>
  </g>
  <circle cx="557.8" cy="535.7" r="23" fill="#5a5f60"/>
  <circle cx="557.8" cy="535.7" r="20.5" fill="#8c9594"/>
  <circle cx="557.8" cy="535.7" r="17" fill="#4b8a7a"/>
  <circle cx="557.8" cy="535.7" r="17" fill="none" stroke="#a9c4bc" stroke-width="1" opacity="0.6"/>
  <path d="M545 530 Q552 522 562 528 L558 540 Z" fill="#bcd8cc" opacity="0.55"/>
  <circle cx="553" cy="536" r="3.5" fill="#f4f4e8" opacity="0.85"/>
  <circle cx="562" cy="531" r="2.5" fill="#e8e8e8" opacity="0.7"/>
  <rect x="522.5" y="585" width="68" height="47.5" rx="23.75" fill="#3c3c3f"/>
  <rect x="525" y="587.5" width="63" height="42.5" rx="21.25" fill="#1b1b1d"/>
  <text x="530" y="612" font-size="8" fill="#2c2c2e" font-weight="bold">ON</text>
  <text x="571" y="612" font-size="8" fill="#2c2c2e" font-weight="bold">OFF</text>
  <rect x="542.5" y="600.8" width="27.5" height="15.2" fill="#3a3a3c"/>
  <rect x="544" y="602.2" width="24.5" height="13" fill="#0f0f10"/>
  <g>
    <circle cx="606.5" cy="459.4" r="7" fill="#0e0e0e"/>
    <circle cx="606.5" cy="459.4" r="4.6" fill="none" stroke="#9a9a9a" stroke-width="1.1"/>
    <circle cx="461.7" cy="533.7" r="7" fill="#0e0e0e"/>
    <circle cx="461.7" cy="533.7" r="4.6" fill="none" stroke="#9a9a9a" stroke-width="1.1"/>
    <circle cx="603.5" cy="612" r="7" fill="#0e0e0e"/>
    <circle cx="603.5" cy="612" r="4.6" fill="none" stroke="#9a9a9a" stroke-width="1.1"/>
  </g>
</g>

<!-- orange indicator lines -->
<g fill="#e06e24">
  <rect x="555.9" y="388" width="3.2" height="118"/>
  <path d="M548 491 L557.5 514.4 L567 491 L557.5 499 Z"/>
  <rect x="555.9" y="622" width="3.2" height="59"/>
  <path d="M549 631 L557.5 609.5 L566 631 L557.5 624 Z"/>
</g>

<!-- bottom text -->
<text x="557.3" y="712.2" text-anchor="middle" font-size="23" font-weight="bold" fill="#141414" textLength="177" lengthAdjust="spacingAndGlyphs"><tspan fill="#e8701e">ON/OFF</tspan> Button</text>
<text x="557.6" y="732.7" text-anchor="middle" font-size="14.8" fill="#141414" textLength="196" lengthAdjust="spacingAndGlyphs">Toggle ON For The First Use</text>
</svg>
</body></html>
